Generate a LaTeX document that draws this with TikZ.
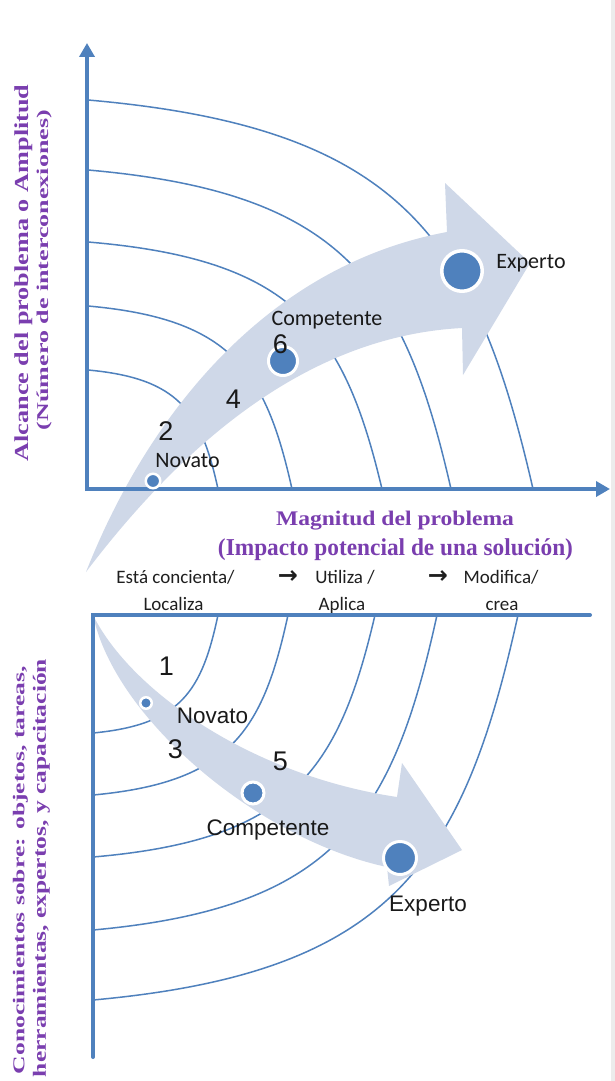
\documentclass[tikz,border=0pt]{standalone}
\usepackage{fontspec}
\usepackage{graphicx}
\usetikzlibrary{arrows.meta}
\newfontfamily\calfont{Carlito}
\newfontfamily\arifont{Liberation Sans}
\newfontfamily\serfont{Liberation Serif}
\newfontfamily\symfont{DejaVu Sans}
\definecolor{axisblue}{RGB}{79,129,189}
\definecolor{bandfill}{RGB}{207,216,232}
\definecolor{purp}{RGB}{122,62,175}
\definecolor{edgegray}{RGB}{236,236,236}
\newcommand\fitbox[3]{\resizebox*{#1pt}{#2pt}{#3}}
\tikzset{
  axisline/.style={draw=axisblue, line width=4pt},
  arcline/.style={draw=axisblue, line width=1.5pt},
  band/.style={fill=bandfill, draw=none},
  dotnode/.style={circle, fill=axisblue, draw=white, inner sep=0pt},
  calT/.style={font=\calfont\fontsize{22}{24}\selectfont, text=black!90, inner sep=0pt, anchor=base},
  digitT/.style={font=\arifont\fontsize{27}{29}\selectfont, text=black!90, inner sep=0pt, anchor=base},
  ariT/.style={font=\arifont\fontsize{22.5}{25}\selectfont, text=black!90, inner sep=0pt, anchor=base},
  rowT/.style={font=\calfont\fontsize{19}{21}\selectfont, text=black!88, inner sep=0pt, anchor=base},
  arrT/.style={font=\symfont\bfseries\fontsize{24}{26}\selectfont, text=black!88, inner sep=0pt},
  purpT/.style={font=\serfont\bfseries, text=purp, inner sep=0pt}
}
\begin{document}
\begin{tikzpicture}[x=1pt,y=-1pt]
\useasboundingbox (0,0) rectangle (615,1081);
\fill[white] (0,0) rectangle (615,1081);
\fill[edgegray] (611,0) rectangle (615,1081);

% ---------- top chart: arcs ----------
\draw[arcline] (88,100) .. controls (399.5,127.2) and (475.2,236.2) .. (533,489);
\draw[arcline] (88,170) .. controls (342.1,192.3) and (403.8,281.7) .. (451,489);
\draw[arcline] (88,242) .. controls (293.8,259.3) and (343.8,328.5) .. (382,489);
\draw[arcline] (88,306) .. controls (230.8,318.8) and (265.5,370.1) .. (292,489);
\draw[arcline] (88,370) .. controls (179,378.3) and (201.1,411.7) .. (218,489);

% ---------- top chart: band arrow ----------
\fill[band] (86,572) .. controls (150,410) and (270,265) .. (447,232)
  -- (445,183) -- (530,263) -- (463,375) -- (462,328)
  .. controls (330,335) and (205,415) .. (86,572) -- cycle;

% ---------- top chart: axes ----------
\draw[axisline, -{Triangle[length=14pt,width=15pt]}] (87,491) -- (87,43);
\draw[axisline, -{Triangle[length=14pt,width=15pt]}] (85,489) -- (610,489);

% ---------- top chart: dots and labels ----------
\node[dotnode, line width=2.5pt, minimum size=14.5pt] (tdot1) at (153,481) {};
\node[dotnode, line width=3pt, minimum size=29pt] (tdot2) at (283,361) {};
\node[dotnode, line width=3.5pt, minimum size=40.5pt] (tdot3) at (462,271) {};
\node[calT] (tnov) at (187.5,467) {Novato};
\node[calT] (tcomp) at (327,325) {Competente};
\node[calT] (texp) at (531,268.5) {Experto};
\node[digitT] (t2) at (166,440) {2};
\node[digitT] (t4) at (233.5,408) {4};
\node[digitT] (t6) at (280.5,353) {6};

% ---------- purple axis titles ----------
\node[purpT, rotate=90] (ylab1) at (24,273) {\fitbox{377}{18}{Alcance del problema o Amplitud}};
\node[purpT, rotate=90] (ylab2) at (44.5,270) {\fitbox{320}{15}{(Número de interconexiones)}};
\node[purpT] (xlab1) at (395,520.5) {\fitbox{238}{19}{Magnitud del problema}};
\node[purpT] (xlab2) at (395.5,550) {\fitbox{355}{22}{(Impacto potencial de una solución)}};
\node[purpT, rotate=90] (blab1) at (20.5,870) {\fitbox{408}{15}{Conocimientos sobre: objetos, tareas,}};
\node[purpT, rotate=90] (blab2) at (41.5,868) {\fitbox{418}{17}{herramientas, expertos, y capacitación}};

% ---------- stage row ----------
\node[rowT] (r1a) at (175.5,583) {Está concienta/};
\node[rowT] (r1b) at (173.5,610) {Localiza};
\node[arrT] (ar1) at (288,577) {→};
\node[rowT] (r2a) at (345,583) {Utiliza /};
\node[rowT] (r2b) at (342,610) {Aplica};
\node[arrT] (ar2) at (438,577) {→};
\node[rowT] (r3a) at (501,583) {Modifica/};
\node[rowT] (r3b) at (502,610) {crea};

% ---------- bottom chart: arcs ----------
\draw[arcline] (93,733) .. controls (180.5,724.7) and (201.8,691.7) .. (218,615);
\draw[arcline] (93,795) .. controls (229.5,782.4) and (262.7,732) .. (288,615);
\draw[arcline] (93,857) .. controls (290.4,840.1) and (338.3,772.3) .. (375,615);
\draw[arcline] (93,930) .. controls (333.8,908) and (392.3,819.8) .. (437,615);
\draw[arcline] (93,1000) .. controls (390.5,973) and (462.8,865.3) .. (518,615);

% ---------- bottom chart: band arrow ----------
\fill[band] (93,615) .. controls (130,690) and (250,775) .. (397,797)
  -- (402,763) -- (462,850) -- (389,886) -- (387,867)
  .. controls (260,840) and (115,720) .. (93,615) -- cycle;

% ---------- bottom chart: axes ----------
\draw[axisline, line cap=round, line join=miter] (93,1057) -- (93,615) -- (590,615);

% ---------- bottom chart: dots and labels ----------
\node[dotnode, line width=2.5pt, minimum size=11.5pt] (bdot1) at (146,703) {};
\node[dotnode, line width=3pt, minimum size=22pt] (bdot2) at (253,793) {};
\node[dotnode, line width=3pt, minimum size=33pt] (bdot3) at (400,858) {};
\node[digitT] (b1) at (166.5,675) {1};
\node[digitT] (b3) at (175.5,758) {3};
\node[digitT] (b5) at (280.5,770) {5};
\node[ariT] (bnov) at (212.5,723) {Novato};
\node[ariT] (bcomp) at (268,835) {Competente};
\node[ariT] (bexp) at (428,911.5) {Experto};
\end{tikzpicture}
\end{document}
